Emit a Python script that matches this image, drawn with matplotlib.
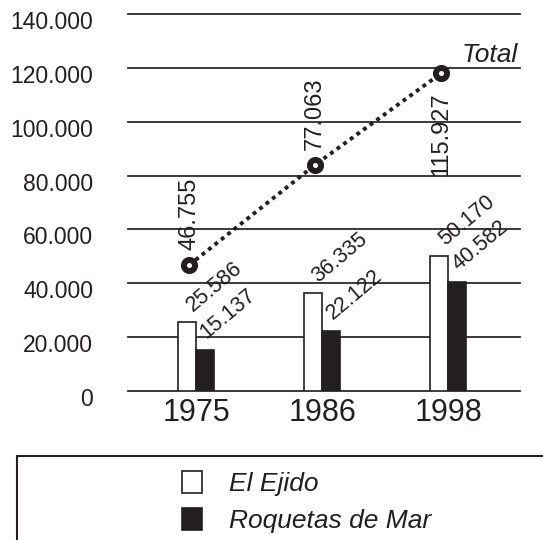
# Población: El Ejido y Roquetas de Mar (barras) + total (línea)
import matplotlib.pyplot as plt
import matplotlib.transforms as mtransforms
from matplotlib.patches import Rectangle

# Datos
years = ["1975", "1986", "1998"]
el_ejido = [25586, 36335, 50170]
roquetas = [15137, 22122, 40582]
total_points = [46755, 84000, 118000]   # posición de los marcadores
total_labels = ["46.755", "77.063", "115.927"]
el_ejido_labels = ["25.586", "36.335", "50.170"]
roquetas_labels = ["15.137", "22.122", "40.582"]
y_ticks = [0, 20000, 40000, 60000, 80000, 100000, 120000, 140000]
y_ticklabels = ["0", "20.000", "40.000", "60.000", "80.000", "100.000", "120.000", "140.000"]

ink = "#231f20"
plt.rcParams["font.family"] = ["Liberation Sans", "DejaVu Sans"]
plt.rcParams["text.color"] = ink

fig = plt.figure(figsize=(5.43, 5.40), dpi=100)
ax = fig.add_axes([0.2357, 0.2759, 0.7219, 0.6982])

x = list(range(len(years)))
w = 0.143
bars1 = ax.bar([i - w / 2 for i in x], el_ejido, width=w, color="white", edgecolor=ink, linewidth=1.2, zorder=3)
bars2 = ax.bar([i + w / 2 for i in x], roquetas, width=w, color=ink, edgecolor=ink, linewidth=1.2, zorder=3)

# etiquetas de las barras (inclinadas)
for b, t in zip(bars1, el_ejido_labels):
    ax.annotate(t, (b.get_x() + b.get_width() / 2, b.get_height()), xytext=(4, 7),
                textcoords="offset points", rotation=40, rotation_mode="anchor",
                ha="left", va="baseline", fontsize=15.5)
for b, t in zip(bars2, roquetas_labels):
    ax.annotate(t, (b.get_x() + b.get_width() / 2, b.get_height()), xytext=(1, 8),
                textcoords="offset points", rotation=40, rotation_mode="anchor",
                ha="left", va="baseline", fontsize=15.5)

# línea del total
xl = [i - 0.055 for i in x]
ax.plot(xl, total_points, color=ink, linestyle=(0, (1, 1.1)), linewidth=2.8, zorder=4,
        marker="o", markersize=8, markerfacecolor="white", markeredgecolor=ink, markeredgewidth=4.3)
for i in range(len(xl)):
    if i < len(xl) - 1:
        ax.annotate(total_labels[i], (xl[i], total_points[i]), xytext=(0, 11),
                    textcoords="offset points", rotation=90, ha="center", va="bottom", fontsize=17)
    else:
        ax.annotate(total_labels[i], (xl[i], total_points[i]), xytext=(0, -14),
                    textcoords="offset points", rotation=90, ha="center", va="top", fontsize=17)

ax.text(0.995, 122300, "Total", transform=ax.get_yaxis_transform(), ha="right", va="baseline",
        fontsize=19, style="italic")

ax.set_xlim(-0.54, 2.57)
ax.set_ylim(0, 140000)
ax.set_yticks(y_ticks)
ax.set_yticklabels(y_ticklabels, fontsize=16.5)
ax.set_xticks(x)
ax.set_xticklabels(years, fontsize=22)
ax.tick_params(axis="both", length=0, colors=ink)
ax.tick_params(axis="y", pad=25)
ax.tick_params(axis="x", pad=5)
for lab in ax.get_yticklabels():
    lab.set_transform(lab.get_transform() + mtransforms.ScaledTranslation(0, -0.06, fig.dpi_scale_trans))

ax.yaxis.grid(True, color="#2b2b2b", linewidth=1.3)
for gl in ax.get_ygridlines():
    gl.set_clip_on(False)
ax.set_axisbelow(True)
for s in ax.spines.values():
    s.set_visible(False)

# leyenda
fig.patches.append(Rectangle((0.0313, -0.2), 1.2, 0.3556, transform=fig.transFigure,
                             facecolor="none", edgecolor=ink, linewidth=1.5))
fig.legend([bars1, bars2], ["El Ejido", "Roquetas de Mar"], loc="upper left",
           bbox_to_anchor=(0.335, 0.128), frameon=False, prop={"size": 19, "style": "italic"},
           handlelength=0.77, handleheight=0.92, handletextpad=1.0, labelspacing=0.45,
           borderpad=0, borderaxespad=0)

plt.savefig("out.png", dpi=100)
